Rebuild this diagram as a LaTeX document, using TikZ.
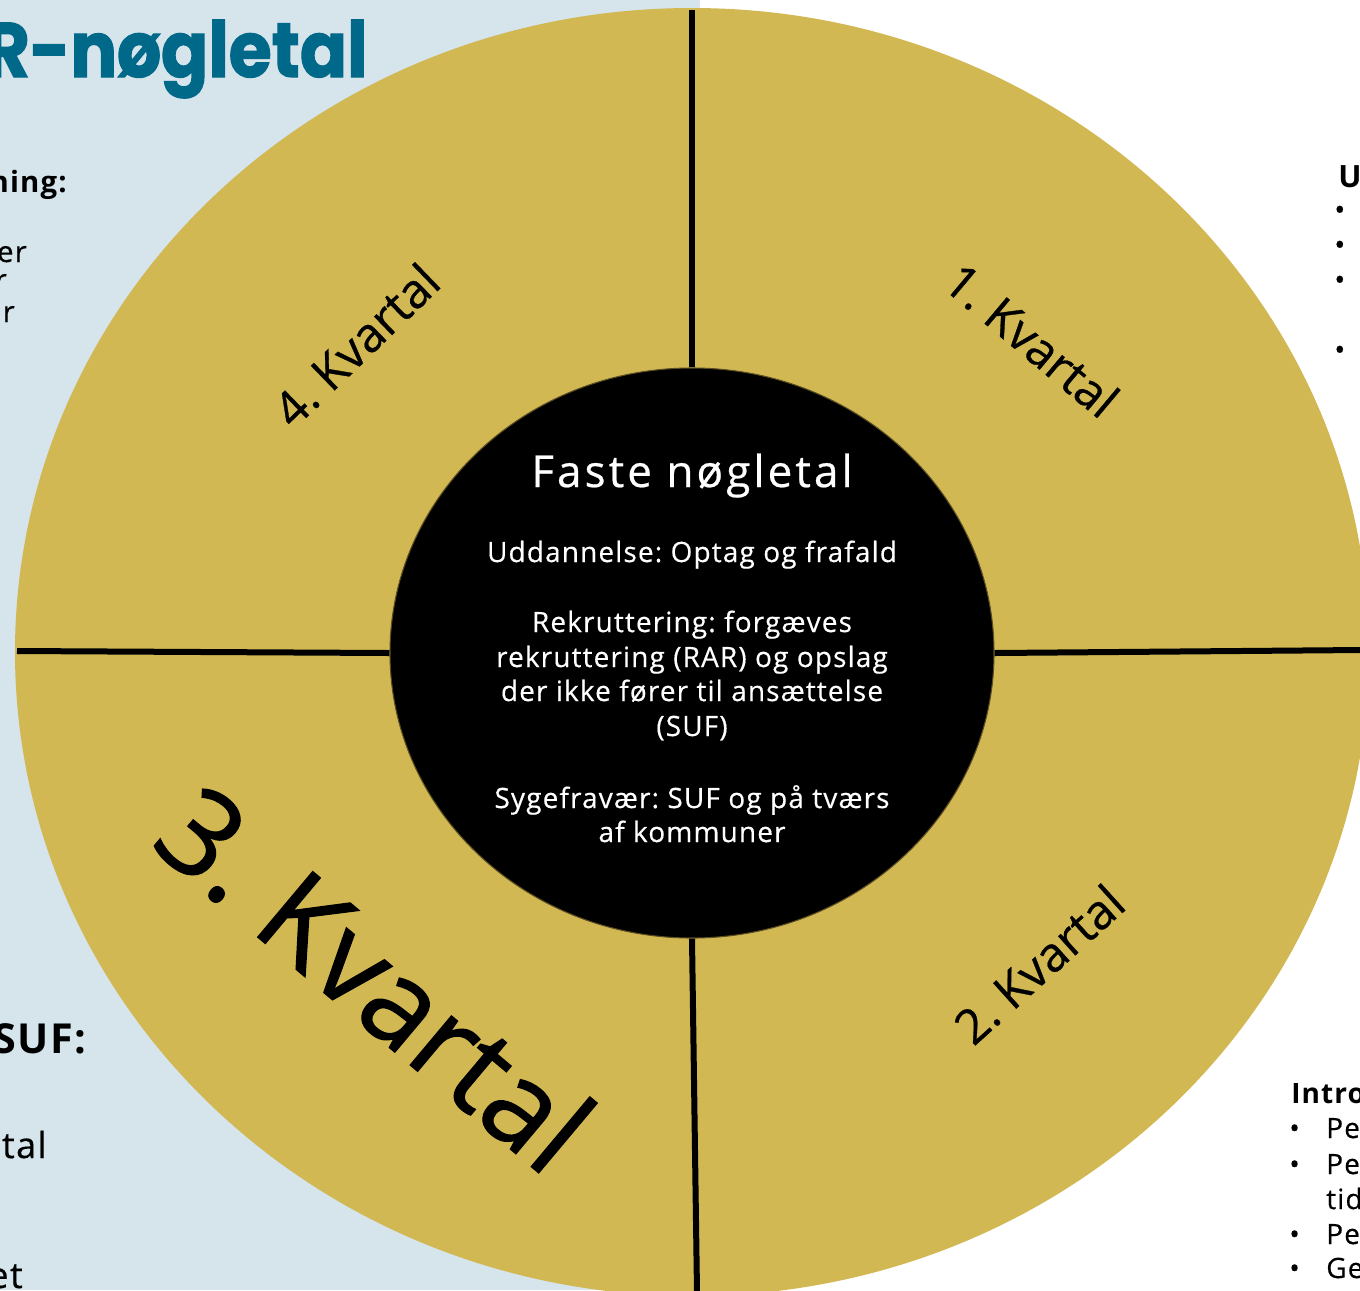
\documentclass[tikz,border=0pt]{standalone}
\usepackage{fontspec}
\setmainfont{Open Sans}[LetterSpace=4]
\newfontfamily\titlefont{Poppins}[BoldFeatures={FakeBold=1.5,FakeStretch=0.9}]
\usetikzlibrary{shapes.geometric}
\frenchspacing
\definecolor{gold}{HTML}{D1B853}
\definecolor{paleblue}{HTML}{D6E4EB}
\definecolor{titleteal}{HTML}{00698A}
\definecolor{rimgold}{HTML}{5C4E22}
\tikzset{
  divider/.style={line width=4.5pt, black},
  quarter/.style={font=\fontsize{36}{40}\selectfont\addfontfeature{LetterSpace=0,FakeBold=0.6}, inner sep=0pt},
  coretext/.style={text=white, font=\fontsize{21}{24}\selectfont\addfontfeature{FakeBold=0.4}, anchor=base, inner sep=0pt},
  sidehead/.style={font=\bfseries\fontsize{22}{26}\selectfont, inner sep=0pt},
  sidetext/.style={font=\fontsize{22}{26}\selectfont\addfontfeature{FakeBold=0.4}, inner sep=0pt},
}
\begin{document}
\begin{tikzpicture}[x=0.75pt,y=-0.75pt]
\useasboundingbox (0,0) rectangle (1360,1290);
\clip (0,0) rectangle (1360,1290);
\fill[white] (0,0) rectangle (1360,1290);
\fill[paleblue] (0,0) rectangle (700,1290);
% big gold disc
\node[ellipse, fill=gold, minimum width=1015.5pt, minimum height=966pt, inner sep=0pt] (disc) at (692,652) {};
% black core
\node[ellipse, fill=black, draw=rimgold, line width=0.8pt, minimum width=453pt, minimum height=427.5pt, inner sep=0pt] (core) at (692,653) {};
% dividers
\coordinate (ctop) at (692,10);
\coordinate (cbot) at (697,1292);
\coordinate (cleft) at (17,651);
\coordinate (cright) at (1362,650);
\draw[divider] (core.north) -- (ctop);
\draw[divider] (core.south) -- (cbot);
\draw[divider] (core.west) -- (cleft);
\draw[divider] (core.east) -- (cright);
% core text
\node[coretext, font=\fontsize{33}{36}\selectfont\addfontfeature{LetterSpace=7,FakeBold=0.5}] (ct) at (692,487) {Faste nøgletal};
\node[coretext] (t1) at (692,562) {Uddannelse: Optag og frafald};
\node[coretext] (t2) at (692,632) {Rekruttering: forgæves};
\node[coretext] (t3) at (692,667) {rekruttering (RAR) og opslag};
\node[coretext] (t4) at (692,701) {der ikke fører til ansættelse};
\node[coretext] (t5) at (692,736) {(SUF)};
\node[coretext] (t6) at (692,808) {Sygefravær: SUF og på tværs};
\node[coretext] (t7) at (692,842) {af kommuner};
% quarter labels
\node[quarter, rotate=-40] (q1) at (1032,340) {1. Kvartal};
\node[quarter, rotate=42] (q2) at (1039,964) {2. Kvartal};
\node[quarter, rotate=-40, font=\fontsize{90}{94}\selectfont\addfontfeature{LetterSpace=0,FakeBold=1}] (q3) at (376,978) {3. Kvartal};
\node[quarter, rotate=44] (q4) at (356,345) {4. Kvartal};
% title
\node[anchor=base east, inner sep=0pt, text=titleteal, font=\titlefont\bfseries\fontsize{58}{60}\selectfont] (title) at (368,77) {R-nøgletal};
% left column fragments
\node[sidehead, anchor=base east] (lh1) at (67,192) {ning:};
\node[sidetext, anchor=base east] (la) at (27,262) {er};
\node[sidetext, anchor=base east] (lb) at (7,290) {r};
\node[sidetext, anchor=base east] (lc) at (15,322) {or};
\node[sidehead, anchor=base east, font=\bfseries\fontsize{31}{34}\selectfont] (lh2) at (87,1053) {SUF:};
\node[sidetext, anchor=base east, font=\fontsize{27}{30}\selectfont\addfontfeature{FakeBold=0.4}] (ld) at (47,1158) {tal};
\node[sidetext, anchor=base east, font=\fontsize{27}{30}\selectfont\addfontfeature{FakeBold=0.4}] (le) at (23,1288) {et};
% right top fragments
\node[sidehead, anchor=base west, font=\bfseries\fontsize{23}{26}\selectfont] (rh1) at (1338,187) {U};
\node[sidetext, anchor=base west] (rb1) at (1334,220) {•};
\node[sidetext, anchor=base west] (rb2) at (1334,255) {•};
\node[sidetext, anchor=base west] (rb3) at (1334,290) {•};
\node[sidetext, anchor=base west] (rb4) at (1334,360) {•};
% right bottom fragments
\node[sidehead, anchor=base west, font=\bfseries\fontsize{21}{24}\selectfont] (rh2) at (1291,1103) {Intro};
\node[sidetext, anchor=base west, font=\fontsize{21}{24}\selectfont\addfontfeature{FakeBold=0.4}] (s1b) at (1289,1138) {•};
\node[sidetext, anchor=base west, font=\fontsize{21}{24}\selectfont\addfontfeature{FakeBold=0.4}] (s1) at (1326,1138) {Pe};
\node[sidetext, anchor=base west, font=\fontsize{21}{24}\selectfont\addfontfeature{FakeBold=0.4}] (s2b) at (1289,1174) {•};
\node[sidetext, anchor=base west, font=\fontsize{21}{24}\selectfont\addfontfeature{FakeBold=0.4}] (s2) at (1326,1174) {Pe};
\node[sidetext, anchor=base west, font=\fontsize{21}{24}\selectfont\addfontfeature{FakeBold=0.4}] (s3) at (1326,1209) {tid};
\node[sidetext, anchor=base west, font=\fontsize{21}{24}\selectfont\addfontfeature{FakeBold=0.4}] (s4b) at (1289,1244) {•};
\node[sidetext, anchor=base west, font=\fontsize{21}{24}\selectfont\addfontfeature{FakeBold=0.4}] (s4) at (1326,1244) {Pe};
\node[sidetext, anchor=base west, font=\fontsize{21}{24}\selectfont\addfontfeature{FakeBold=0.4}] (s5b) at (1289,1278) {•};
\node[sidetext, anchor=base west, font=\fontsize{21}{24}\selectfont\addfontfeature{FakeBold=0.4}] (s5) at (1326,1278) {Ge};
\end{tikzpicture}
\end{document}
